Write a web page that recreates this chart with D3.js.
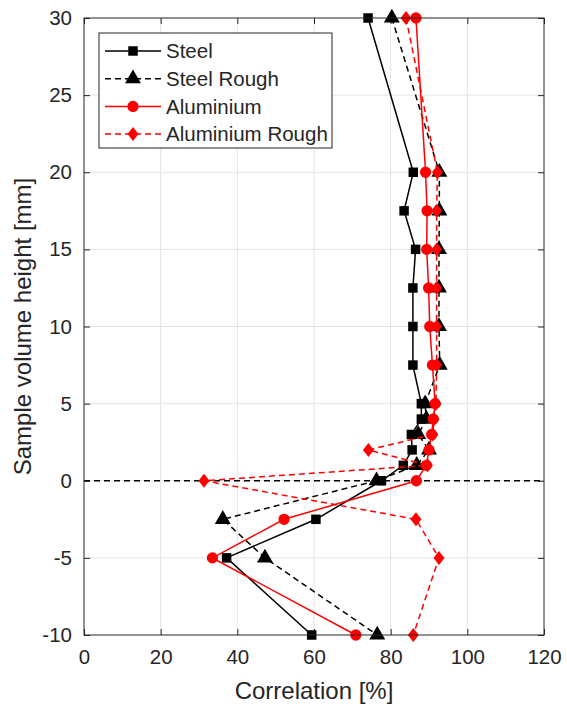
<!DOCTYPE html>
<html>
<head>
<meta charset="utf-8">
<script src="https://cdn.jsdelivr.net/npm/d3@7"></script>
<style>
  html, body { margin: 0; padding: 0; background: #fff; }
  svg { display: block; }
  text { font-family: "Liberation Sans", Arial, Helvetica, sans-serif; fill: #262626; }
</style>
</head>
<body>
<svg id="chart" width="567" height="708"></svg>
<script>
// Sample volume heights (mm) at which correlation was measured
const heights = [30, 20, 17.5, 15, 12.5, 10, 7.5, 5, 4, 3, 2, 1, 0, -2.5, -5, -10];

// Correlation (%) per material / surface
const steel          = [74.1, 85.9, 83.5, 86.5, 85.8, 85.8, 85.8, 88.0, 88.0, 85.4, 85.6, 83.3, 77.6, 60.5, 37.2, 59.4];
const steelRough     = [80.3, 92.7, 92.7, 92.6, 92.6, 92.6, 92.8, 89.0, 89.3, 87.2, 90.0, 86.8, 76.3, 36.2, 47.2, 76.5];
const aluminium      = [86.6, 89.1, 89.5, 89.4, 89.9, 90.2, 90.9, 91.6, 91.1, 90.7, 90.0, 89.3, 86.7, 52.2, 33.5, 70.9];
const aluminiumRough = [84.0, 92.2, 92.0, 92.0, 92.0, 92.0, 92.0, 91.8, 91.3, 91.0, 74.2, 89.6, 31.3, 86.6, 92.6, 85.9];

const seriesNames = ["Steel", "Steel Rough", "Aluminium", "Aluminium Rough"];
const xTicks = [0, 20, 40, 60, 80, 100, 120];
const yTicks = [-10, -5, 0, 5, 10, 15, 20, 25, 30];

const series = [
  { name: seriesNames[0], values: steel,          color: "#000000", dash: null,  marker: "square" },
  { name: seriesNames[1], values: steelRough,     color: "#000000", dash: "6,4", marker: "triangle" },
  { name: seriesNames[2], values: aluminium,      color: "#ff0000", dash: null,  marker: "circle" },
  { name: seriesNames[3], values: aluminiumRough, color: "#ff0000", dash: "6,4", marker: "diamond" }
];

const svg = d3.select("#chart");
const plot = { left: 84, right: 544, top: 18, bottom: 635 };

const x = d3.scaleLinear().domain([0, 120]).range([plot.left, plot.right]);
const y = d3.scaleLinear().domain([-10, 30]).range([plot.bottom, plot.top]);

// Grid
const grid = svg.append("g");
grid.selectAll("line.gx").data(xTicks.slice(1, -1)).join("line")
  .attr("x1", d => x(d)).attr("x2", d => x(d))
  .attr("y1", plot.top).attr("y2", plot.bottom)
  .attr("stroke", "#e3e3e3").attr("stroke-width", 1);
grid.selectAll("line.gy").data(yTicks.slice(1, -1)).join("line")
  .attr("x1", plot.left).attr("x2", plot.right)
  .attr("y1", d => y(d)).attr("y2", d => y(d))
  .attr("stroke", "#e3e3e3").attr("stroke-width", 1);

// Axes with inward ticks on all four sides
const tickLen = 6;
const axisColor = "#262626";
const fontTick = 20.5;
const plainNum = d => String(d);   // ASCII hyphen for negatives

const bottomAxis = d3.axisBottom(x).tickValues(xTicks).tickFormat(plainNum)
  .tickSizeInner(-tickLen).tickSizeOuter(0).tickPadding(14);
const topAxis = d3.axisTop(x).tickValues(xTicks).tickSizeInner(-tickLen).tickSizeOuter(0).tickFormat("");
const leftAxis = d3.axisLeft(y).tickValues(yTicks).tickFormat(plainNum)
  .tickSizeInner(-tickLen).tickSizeOuter(0).tickPadding(12);
const rightAxis = d3.axisRight(y).tickValues(yTicks).tickSizeInner(-tickLen).tickSizeOuter(0).tickFormat("");

function styleAxis(g) {
  g.select(".domain").remove();
  g.selectAll(".tick line").attr("stroke", axisColor).attr("stroke-width", 1);
  g.selectAll(".tick text")
    .attr("fill", "#262626")
    .style("font-family", "'Liberation Sans', Arial, sans-serif")
    .style("font-size", fontTick + "px");
}

svg.append("g").attr("transform", `translate(0,${plot.bottom})`).call(bottomAxis).call(styleAxis);
svg.append("g").attr("transform", `translate(0,${plot.top})`).call(topAxis).call(styleAxis);
svg.append("g").attr("transform", `translate(${plot.left},0)`).call(leftAxis).call(styleAxis);
svg.append("g").attr("transform", `translate(${plot.right},0)`).call(rightAxis).call(styleAxis);

// Reference line at zero height
svg.append("line")
  .attr("x1", plot.left).attr("x2", plot.right)
  .attr("y1", y(0)).attr("y2", y(0))
  .attr("stroke", "#000").attr("stroke-width", 1.6)
  .attr("stroke-dasharray", "6,4");

// Marker shapes
function markerPath(type) {
  switch (type) {
    case "square":   return d3.symbol(d3.symbolSquare, 90)();
    case "triangle": return d3.symbol(d3.symbolTriangle, 110)();
    case "circle":   return d3.symbol(d3.symbolCircle, 100)();
    case "diamond":  return "M0,-7L5.5,0L0,7L-5.5,0Z";
  }
}

const line = d3.line().x(d => x(d.v)).y(d => y(d.h));

const seriesG = svg.append("g");
series.forEach(s => {
  const pts = heights.map((h, i) => ({ h, v: s.values[i] }));
  const g = seriesG.append("g");
  g.append("path")
    .datum(pts)
    .attr("d", line)
    .attr("fill", "none")
    .attr("stroke", s.color)
    .attr("stroke-width", 1.5)
    .attr("stroke-dasharray", s.dash);
  g.selectAll("path.m").data(pts).join("path")
    .attr("class", "m")
    .attr("transform", d => `translate(${x(d.v)},${y(d.h)})`)
    .attr("d", markerPath(s.marker))
    .attr("fill", s.color);
});

// Plot frame
svg.append("rect")
  .attr("x", plot.left).attr("y", plot.top)
  .attr("width", plot.right - plot.left).attr("height", plot.bottom - plot.top)
  .attr("fill", "none").attr("stroke", axisColor).attr("stroke-width", 1);

// Axis titles
svg.append("text")
  .attr("x", (plot.left + plot.right) / 2).attr("y", 699)
  .attr("text-anchor", "middle")
  .style("font-size", "24px")
  .text("Correlation [%]");

svg.append("text")
  .attr("transform", `translate(31,${(plot.top + plot.bottom) / 2}) rotate(-90)`)
  .attr("text-anchor", "middle")
  .style("font-size", "24px")
  .text("Sample volume height [mm]");

// Legend
const legend = svg.append("g");
const lg = { x: 99, y: 33, w: 233, h: 115 };
legend.append("rect")
  .attr("x", lg.x).attr("y", lg.y).attr("width", lg.w).attr("height", lg.h)
  .attr("fill", "#fff").attr("stroke", axisColor).attr("stroke-width", 1);

series.forEach((s, i) => {
  const cy = 51 + i * 27.7;
  legend.append("line")
    .attr("x1", 105).attr("x2", 161).attr("y1", cy).attr("y2", cy)
    .attr("stroke", s.color).attr("stroke-width", 1.5)
    .attr("stroke-dasharray", s.dash);
  legend.append("path")
    .attr("transform", `translate(133,${cy})`)
    .attr("d", markerPath(s.marker))
    .attr("fill", s.color);
  legend.append("text")
    .attr("x", 166).attr("y", cy + 7.3)
    .style("font-size", "20.5px")
    .text(s.name);
});
</script>
</body>
</html>
